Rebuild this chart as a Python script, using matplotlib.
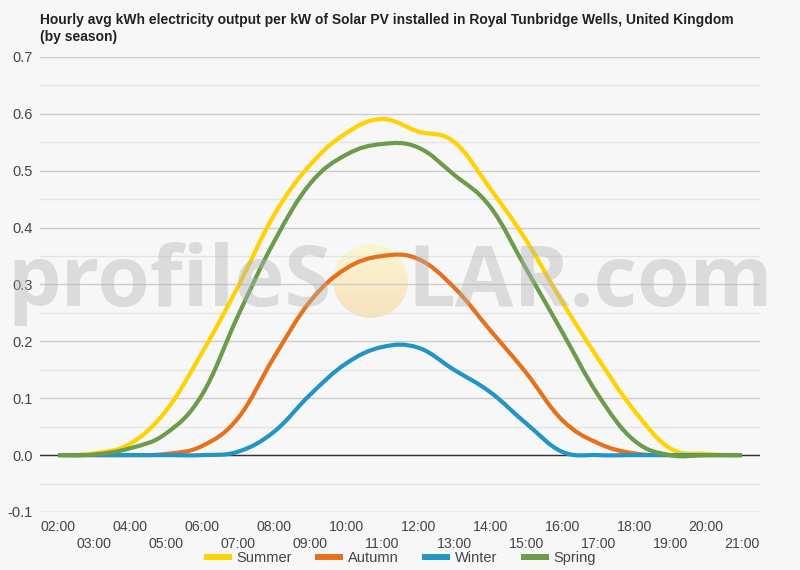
#Hourly avg solar PV output per kW by season - Royal Tunbridge Wells
import matplotlib
matplotlib.use('Agg')
import matplotlib.pyplot as plt
import numpy as np
from matplotlib.path import Path
from matplotlib.patches import PathPatch, Circle
from matplotlib.lines import Line2D
from matplotlib.colors import LinearSegmentedColormap

plt.rcParams['font.family'] = ['Liberation Sans', 'DejaVu Sans']

hours = ["02:00", "03:00", "04:00", "05:00", "06:00", "07:00", "08:00", "09:00", "10:00", "11:00",
         "12:00", "13:00", "14:00", "15:00", "16:00", "17:00", "18:00", "19:00", "20:00", "21:00"]

summer = [0.0, 0.003, 0.02, 0.078, 0.18, 0.296, 0.422, 0.51, 0.566, 0.591,
          0.569, 0.551, 0.469, 0.378, 0.27, 0.17, 0.079, 0.012, 0.002, 0.0]
autumn = [0.0, 0.0, 0.0, 0.002, 0.016, 0.065, 0.172, 0.27, 0.328, 0.35,
          0.345, 0.295, 0.22, 0.145, 0.062, 0.021, 0.003, 0.0, 0.0, 0.0]
winter = [0.0, 0.0, 0.0, 0.0, 0.0, 0.006, 0.041, 0.106, 0.161, 0.19,
          0.189, 0.15, 0.111, 0.056, 0.006, 0.0, 0.0, 0.0, 0.0, 0.0]
spring = [0.0, 0.001, 0.012, 0.038, 0.106, 0.245, 0.375, 0.477, 0.528, 0.547,
          0.541, 0.493, 0.437, 0.328, 0.217, 0.106, 0.026, 0.0, 0.0, 0.0]

series = [("Summer", summer, "#FFD200"),
          ("Autumn", autumn, "#E5711D"),
          ("Winter", winter, "#2394C6"),
          ("Spring", spring, "#6C9B4C")]


def smoothPath(xs, ys, t=0.19):
    #曲线平滑（类似Google Charts的curveType function）
    pts = np.column_stack([xs, ys]).astype(float)
    n = len(pts)
    verts = [tuple(pts[0])]
    codes = [Path.MOVETO]
    for i in range(n - 1):
        p0 = pts[max(i - 1, 0)]
        p1 = pts[i]
        p2 = pts[i + 1]
        p3 = pts[min(i + 2, n - 1)]
        c1 = p1 + (p2 - p0) * t
        c2 = p2 - (p3 - p1) * t
        verts += [tuple(c1), tuple(c2), tuple(p2)]
        codes += [Path.CURVE4, Path.CURVE4, Path.CURVE4]
    return Path(verts, codes)


bg = '#f7f7f7'
fig = plt.figure(figsize=(8, 5.7), dpi=100, facecolor=bg)
ax = fig.add_axes([0.05, 0.1018, 0.9, 0.7982])

x = np.arange(len(hours))
for name, vals, col in series:
    p = smoothPath(x, vals)
    ax.add_patch(PathPatch(p, facecolor='none', edgecolor=col, lw=3.0,
                           capstyle='butt', joinstyle='round', zorder=3))

ax.set_xlim(-0.5, len(hours) - 0.5)
ax.set_ylim(-0.1, 0.7)

#网格线
for v in np.arange(-0.1, 0.71, 0.1):
    ax.axhline(v, color='#cccccc', lw=1, zorder=1)
for v in np.arange(-0.05, 0.7, 0.1):
    ax.axhline(v, color='#e3e3e3', lw=1, zorder=1)
ax.axhline(0, color='#333333', lw=1, zorder=2)

for s in ax.spines.values():
    s.set_visible(False)
ax.tick_params(length=0)
ax.set_yticks(np.arange(-0.1, 0.71, 0.1))
ax.set_yticklabels(["%.1f" % v for v in np.arange(-0.1, 0.71, 0.1)], fontsize=10.5, color='#444444')
ax.tick_params(axis='y', pad=5)
ax.set_xticks(x)
ax.set_xticklabels([h if i % 2 == 0 else "\n" + h for i, h in enumerate(hours)],
                   fontsize=10.2, color='#444444', linespacing=1.25)
ax.tick_params(axis='x', pad=6)

fig.text(0.05, 0.978, "Hourly avg kWh electricity output per kW of Solar PV installed in Royal Tunbridge Wells, United Kingdom\n(by season)",
         fontsize=10, fontweight='bold', color='#222222', ha='left', va='top', linespacing=1.35)

#水印
wm = dict(fontsize=61, fontweight='bold', color='#b5b5b5', alpha=0.42,
          family=['Open Sans', 'DejaVu Sans'], zorder=5, va='baseline')
fig.text(331 / 800, 1 - 306 / 570, "profileS", ha='right', **wm)
fig.text(407 / 800, 1 - 306 / 570, "LAR.com", ha='left', **wm)
grad = np.linspace(0, 1, 100).reshape(-1, 1)
sax = fig.add_axes([333 / 800, 1 - 318 / 570, 75 / 800, 74 / 570])
sax.axis('off')
cm = LinearSegmentedColormap.from_list('sun', ['#fdf6c8', '#f9ddb0'])
im = sax.imshow(grad, cmap=cm, aspect='auto', extent=(0, 1, 0, 1), origin='upper', alpha=0.8)
clip = Circle((0.5, 0.5), 0.5, transform=sax.transData)
im.set_clip_path(clip)
sax.set_xlim(0, 1)
sax.set_ylim(0, 1)
sax.set_zorder(0.5)
ax.set_zorder(1)
ax.patch.set_alpha(0)

handles = [Line2D([0], [0], color=c, lw=4.3, solid_capstyle='butt') for _, _, c in series]
fig.legend(handles, [n for n, _, _ in series], loc='center', bbox_to_anchor=(0.5, 1 - 558 / 570),
           ncol=4, frameon=False, fontsize=10.5, handlelength=1.92, handletextpad=0.35, columnspacing=1.58,
           labelcolor='#444444')

fig.savefig('out.png', dpi=100, facecolor=bg)
